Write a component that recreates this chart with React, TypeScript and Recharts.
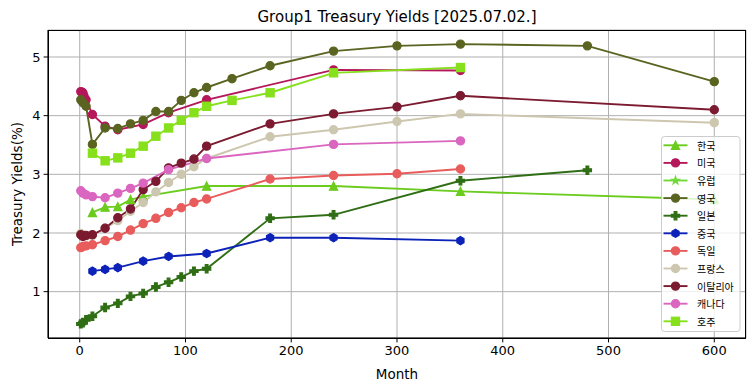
import { CartesianGrid, Line, LineChart, XAxis, YAxis } from "recharts";

// months to maturity and yields (%) per country
const krMonths = [12, 24, 36, 48, 60, 120, 240, 360, 600];
const krYields = [2.35, 2.44, 2.45, 2.57, 2.62, 2.8, 2.8, 2.71, 2.57];

const usMonths = [1, 2, 3, 4, 6, 12, 24, 36, 60, 84, 120, 240, 360];
const usYields = [4.41, 4.4, 4.39, 4.34, 4.27, 4.02, 3.82, 3.76, 3.85, 4.05, 4.27, 4.78, 4.77];

const euMonths: number[] = [];
const euYields: number[] = [];

const ukMonths = [1, 3, 6, 12, 24, 36, 48, 60, 72, 84, 96, 108, 120, 144, 180, 240, 300, 360, 480, 600];
const ukYields = [4.27, 4.22, 4.16, 3.51, 3.79, 3.78, 3.86, 3.92, 4.07, 4.07, 4.26, 4.39, 4.48, 4.63, 4.85, 5.1, 5.19, 5.22, 5.19, 4.58];

const jpMonths = [1, 3, 6, 12, 24, 36, 48, 60, 72, 84, 96, 108, 120, 180, 240, 360, 480];
const jpYields = [0.45, 0.47, 0.52, 0.58, 0.73, 0.8, 0.92, 0.97, 1.08, 1.16, 1.25, 1.35, 1.39, 2.25, 2.31, 2.89, 3.07];

const cnMonths = [12, 24, 36, 60, 84, 120, 180, 240, 360];
const cnYields = [1.35, 1.38, 1.41, 1.52, 1.6, 1.65, 1.92, 1.92, 1.87];

const deMonths = [1, 3, 6, 12, 24, 36, 48, 60, 72, 84, 96, 108, 120, 180, 240, 300, 360];
const deYields = [1.75, 1.77, 1.78, 1.8, 1.87, 1.94, 2.05, 2.16, 2.25, 2.35, 2.43, 2.52, 2.58, 2.92, 2.98, 3.01, 3.09];

const frMonths = [1, 3, 6, 12, 24, 36, 48, 60, 72, 84, 96, 108, 120, 180, 240, 300, 360, 600];
const frYields = [1.99, 1.97, 1.95, 1.96, 2.08, 2.21, 2.37, 2.52, 2.7, 2.86, 3.0, 3.13, 3.27, 3.64, 3.76, 3.9, 4.03, 3.88];

const itMonths = [1, 3, 6, 12, 24, 36, 48, 60, 72, 84, 96, 108, 120, 180, 240, 300, 360, 600];
const itYields = [1.97, 1.94, 1.96, 1.97, 2.08, 2.26, 2.41, 2.74, 2.88, 3.11, 3.19, 3.26, 3.48, 3.86, 4.03, 4.15, 4.34, 4.1];

const caMonths = [1, 3, 6, 12, 24, 36, 48, 60, 84, 120, 240, 360];
const caYields = [2.72, 2.68, 2.65, 2.62, 2.6, 2.68, 2.76, 2.85, 3.08, 3.27, 3.51, 3.57];

const auMonths = [12, 24, 36, 48, 60, 72, 84, 96, 108, 120, 144, 180, 240, 360];
const auYields = [3.36, 3.23, 3.28, 3.36, 3.48, 3.65, 3.79, 3.92, 4.05, 4.16, 4.26, 4.39, 4.73, 4.82];

const xTicks = [0, 100, 200, 300, 400, 500, 600];
const yTicks = [1, 2, 3, 4, 5];

type MarkerKind = "o" | "^" | "*" | "P" | "h" | "s";

const SERIES: { name: string; months: number[]; yields: number[]; color: string; marker: MarkerKind }[] = [
  { name: "한국", months: krMonths, yields: krYields, color: "#6bcc1e", marker: "^" },
  { name: "미국", months: usMonths, yields: usYields, color: "#b5175a", marker: "o" },
  { name: "유럽", months: euMonths, yields: euYields, color: "#72d93a", marker: "*" },
  { name: "영국", months: ukMonths, yields: ukYields, color: "#5a6420", marker: "o" },
  { name: "일본", months: jpMonths, yields: jpYields, color: "#2f6e14", marker: "P" },
  { name: "중국", months: cnMonths, yields: cnYields, color: "#0c22b8", marker: "h" },
  { name: "독일", months: deMonths, yields: deYields, color: "#e85c5c", marker: "o" },
  { name: "프랑스", months: frMonths, yields: frYields, color: "#cdc7b0", marker: "o" },
  { name: "이탈리아", months: itMonths, yields: itYields, color: "#7b1a30", marker: "o" },
  { name: "캐나다", months: caMonths, yields: caYields, color: "#da66c0", marker: "o" },
  { name: "호주", months: auMonths, yields: auYields, color: "#86e01c", marker: "s" },
];

const W = 755;
const H = 391;
const PLOT = { left: 48, top: 30, right: 746, bottom: 338 };
const FONT = "'DejaVu Sans', sans-serif";

function polygon(cx: number, cy: number, n: number, r: number, rot: number) {
  const pts: string[] = [];
  for (let i = 0; i < n; i++) {
    const a = rot + (i * 2 * Math.PI) / n;
    pts.push(`${cx + r * Math.sin(a)},${cy - r * Math.cos(a)}`);
  }
  return pts.join(" ");
}

function Marker({ kind, cx, cy, color }: { kind: MarkerKind; cx: number; cy: number; color: string }) {
  if (cx == null || cy == null) return null;
  const s = 4.1;
  const common = { fill: color, stroke: color, strokeWidth: 1.2 };
  if (kind === "o") return <circle cx={cx} cy={cy} r={s} {...common} />;
  if (kind === "s") return <rect x={cx - s} y={cy - s} width={2 * s} height={2 * s} {...common} />;
  if (kind === "^")
    return <polygon points={`${cx},${cy - s} ${cx - s},${cy + s} ${cx + s},${cy + s}`} {...common} />;
  if (kind === "h") return <polygon points={polygon(cx, cy, 6, s, 0)} {...common} />;
  if (kind === "P") {
    const a = s / 3;
    const p = [
      [-a, -s], [a, -s], [a, -a], [s, -a], [s, a], [a, a],
      [a, s], [-a, s], [-a, a], [-s, a], [-s, -a], [-a, -a],
    ];
    return <polygon points={p.map(([x, y]) => `${cx + x},${cy + y}`).join(" ")} {...common} />;
  }
  // star
  const pts: string[] = [];
  for (let i = 0; i < 10; i++) {
    const r = i % 2 === 0 ? s : s * 0.382;
    const a = (i * Math.PI) / 5;
    pts.push(`${cx + r * Math.sin(a)},${cy - r * Math.cos(a)}`);
  }
  return <polygon points={pts.join(" ")} {...common} />;
}

function Overlay() {
  const lx = 661.5;
  const ly = 136.5;
  const step = 17.6;
  return (
    <svg width={W} height={H} style={{ position: "absolute", left: 0, top: 0, pointerEvents: "none" }}>
      <rect x={PLOT.left + 0.5} y={PLOT.top + 0.5} width={PLOT.right - PLOT.left - 1} height={PLOT.bottom - PLOT.top} fill="none" stroke="#000" strokeWidth={1} />
      <text x={(PLOT.left + PLOT.right) / 2} y={21.5} textAnchor="middle" fontFamily={FONT} fontSize={15} fill="#000">
        Group1 Treasury Yields [2025.07.02.]
      </text>
      <text x={(PLOT.left + PLOT.right) / 2} y={379} textAnchor="middle" fontFamily={FONT} fontSize={13.5} fill="#000">
        Month
      </text>
      <text x={0} y={0} transform={`translate(21.5 ${(PLOT.top + PLOT.bottom) / 2}) rotate(-90)`} textAnchor="middle" fontFamily={FONT} fontSize={13.5} fill="#000">
        Treasury Yields(%)
      </text>
      <rect x={lx} y={ly} width={78.5} height={195} rx={3} fill="#fff" fillOpacity={0.8} stroke="#cccccc" strokeWidth={1} />
      {SERIES.map((s, i) => {
        const y = ly + 8.8 + i * step;
        return (
          <g key={s.name}>
            <line x1={lx + 2} x2={lx + 26} y1={y} y2={y} stroke={s.color} strokeWidth={1.9} />
            <Marker kind={s.marker} cx={lx + 14} cy={y} color={s.color} />
            <text x={lx + 35.5} y={y} dominantBaseline="central" fontFamily="'Noto Sans CJK KR', sans-serif" fontSize={10} fill="#000">
              {s.name}
            </text>
          </g>
        );
      })}
    </svg>
  );
}

export default function App() {
  return (
    <div style={{ position: "absolute", left: 0, top: 0, width: W, height: H, background: "#fff" }}>
      <LineChart width={W} height={H} margin={{ top: PLOT.top, right: W - PLOT.right, left: 0, bottom: 0 }}>
        <CartesianGrid stroke="#b0b0b0" strokeWidth={1} />
        <XAxis
          dataKey="m"
          type="number"
          domain={[-30, 630]}
          ticks={xTicks}
          allowDataOverflow
          height={H - PLOT.bottom}
          tickSize={4.4}
          tickMargin={3}
          stroke="#000"
          tick={{ fill: "#000", fontSize: 13, fontFamily: FONT }}
        />
        <YAxis
          type="number"
          domain={[0.21, 5.46]}
          ticks={yTicks}
          allowDataOverflow
          width={PLOT.left}
          tickSize={4.4}
          tickMargin={3}
          stroke="#000"
          tick={{ fill: "#000", fontSize: 13, fontFamily: FONT }}
        />
        {SERIES.filter((s) => s.months.length > 0).map((s) => (
          <Line
            key={s.name}
            name={s.name}
            data={s.months.map((m, i) => ({ m, v: s.yields[i] }))}
            dataKey="v"
            type="linear"
            stroke={s.color}
            strokeWidth={1.9}
            dot={(p: any) => <Marker key={`${s.name}-${p.index}`} kind={s.marker} cx={p.cx} cy={p.cy} color={s.color} />}
            activeDot={false}
            isAnimationActive={false}
          />
        ))}
      </LineChart>
      <Overlay />
    </div>
  );
}
